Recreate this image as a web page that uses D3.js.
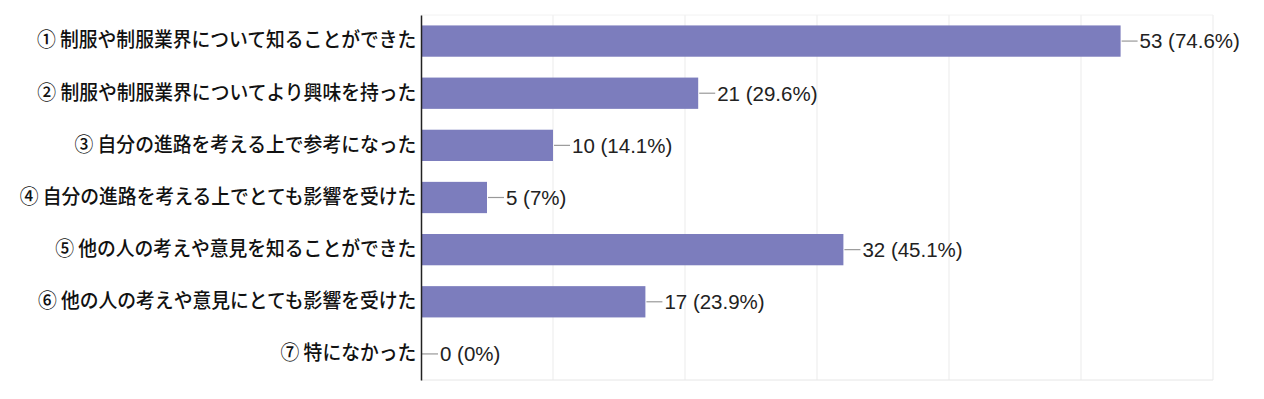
<!DOCTYPE html>
<html>
<head>
<meta charset="utf-8">
<script src="https://cdn.jsdelivr.net/npm/d3@7"></script>
<style>
  body { margin: 0; background: #fff; }
  #chart { width: 1264px; height: 399px; }
</style>
</head>
<body>
<div id="chart"></div>
<script>
// Data
const categories = [
  "① 制服や制服業界について知ることができた",
  "② 制服や制服業界についてより興味を持った",
  "③ 自分の進路を考える上で参考になった",
  "④ 自分の進路を考える上でとても影響を受けた",
  "⑤ 他の人の考えや意見を知ることができた",
  "⑥ 他の人の考えや意見にとても影響を受けた",
  "⑦ 特になかった"
];
const counts = [53, 21, 10, 5, 32, 17, 0];
const percents = ["74.6%", "29.6%", "14.1%", "7%", "45.1%", "23.9%", "0%"];
const xTicks = [0, 10, 20, 30, 40, 50, 60];

const margin = { top: 15, right: 51, bottom: 19, left: 421 };
const fullWidth = 1264, fullHeight = 399;
const width = fullWidth - margin.left - margin.right;
const height = fullHeight - margin.top - margin.bottom;

const svg = d3.select("#chart")
  .append("svg")
  .attr("width", fullWidth)
  .attr("height", fullHeight)
  .append("g")
  .attr("transform", `translate(${margin.left},${margin.top})`);

// Scales
const xScale = d3.scaleLinear().domain([0, 60]).range([0, width]);
const yScale = d3.scaleBand().domain(categories).range([0, height]).paddingInner(0.4).paddingOuter(0.2);

// Gridlines
svg.selectAll(".grid")
  .data(xTicks.slice(1))
  .enter()
  .append("line")
  .attr("x1", d => xScale(d))
  .attr("x2", d => xScale(d))
  .attr("y1", 0)
  .attr("y2", height)
  .attr("stroke", "#ebebeb")
  .attr("stroke-width", 1);

svg.append("line")
  .attr("x1", 0).attr("x2", width)
  .attr("y1", height).attr("y2", height)
  .attr("stroke", "#e6e6e6");

svg.append("line")
  .attr("x1", 0).attr("x2", width)
  .attr("y1", 0).attr("y2", 0)
  .attr("stroke", "#f2f2f2");

// Bars
const rows = categories.map((c, i) => ({ cat: c, count: counts[i], pct: percents[i] }));

svg.selectAll(".bar")
  .data(rows)
  .enter()
  .append("rect")
  .attr("x", 0)
  .attr("y", d => yScale(d.cat))
  .attr("width", d => xScale(d.count))
  .attr("height", yScale.bandwidth())
  .attr("fill", "#7c7dbd");

// Leader lines + value labels
svg.selectAll(".leader")
  .data(rows)
  .enter()
  .append("line")
  .attr("x1", d => xScale(d.count) + 1)
  .attr("x2", d => xScale(d.count) + 17)
  .attr("y1", d => yScale(d.cat) + yScale.bandwidth() / 2)
  .attr("y2", d => yScale(d.cat) + yScale.bandwidth() / 2)
  .attr("stroke", "#999")
  .attr("stroke-width", 1.2);

svg.selectAll(".val")
  .data(rows)
  .enter()
  .append("text")
  .attr("x", d => xScale(d.count) + 19)
  .attr("y", d => yScale(d.cat) + yScale.bandwidth() / 2)
  .attr("dy", "0.36em")
  .attr("font-family", "Arial, 'Liberation Sans', sans-serif")
  .attr("font-size", 20.5)
  .attr("fill", "#222")
  .text(d => `${d.count} (${d.pct})`);

// Category labels
svg.append("g")
  .call(d3.axisLeft(yScale).tickSize(0).tickPadding(5))
  .call(g => g.select(".domain").attr("stroke", "#222").attr("stroke-width", 1.5))
  .call(g => g.selectAll("text")
    .attr("transform", "scale(0.94,1)")
    .attr("font-family", "'Noto Sans CJK JP', sans-serif")
    .attr("font-size", 20)
    .attr("font-weight", 500)
    .attr("fill", "#111"));
</script>
</body>
</html>
